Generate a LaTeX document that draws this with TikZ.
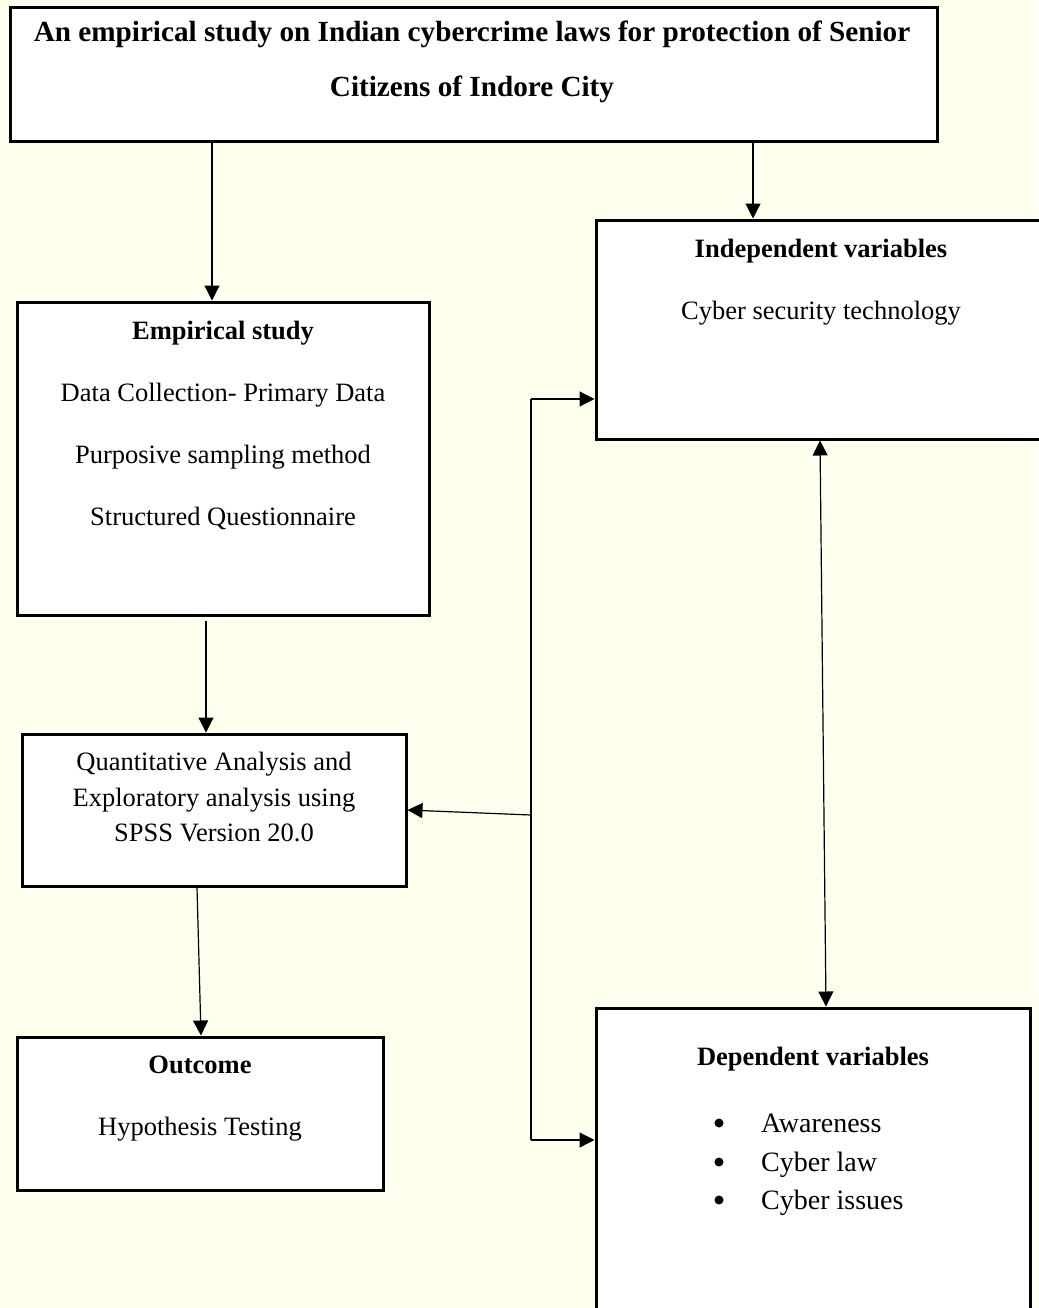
\documentclass[tikz,border=0pt]{standalone}
\usepackage{fontspec}
\setmainfont{Liberation Serif}
\usepackage{tikz}
\usetikzlibrary{arrows.meta, positioning, calc}

\definecolor{paper}{RGB}{255,255,238}

\tikzset{
  box/.style={draw, line width=3pt, fill=white, inner sep=0pt},
  txt/.style={anchor=base, font=\fontsize{26.5}{30}\selectfont},
  head/.style={anchor=base, font=\fontsize{26.5}{30}\selectfont\bfseries},
  item/.style={anchor=base west, inner sep=0pt, font=\fontsize{28}{32}\selectfont},
  dot/.style={circle, fill, inner sep=0pt, minimum size=9pt},
  arr/.style={-{Triangle[length=15pt,width=15pt]}, line width=1.2pt},
  darr/.style={{Triangle[length=15pt,width=15pt]}-{Triangle[length=15pt,width=15pt]}, line width=1.2pt},
}

\begin{document}
\begin{tikzpicture}[x=1pt, y=-1pt]

% Page (y grows downwards)
\useasboundingbox (0,0) rectangle (1038,1308);
\fill[paper] (0,0) rectangle (1038,1308);

% Boxes
\node[box, minimum width=927pt, minimum height=134pt] (title) at (473.5,75) {};
\node[box, minimum width=470pt, minimum height=219pt] (indep) at (831,329.5) {};
\node[box, minimum width=412pt, minimum height=313pt] (emp)   at (223,458.5) {};
\node[box, minimum width=384pt, minimum height=152pt] (quant) at (214,810) {};
\node[box, minimum width=366pt, minimum height=153pt] (outc)  at (200,1113.5) {};
\node[box, minimum width=434pt, minimum height=330pt] (dep)   at (813,1173) {};

% Title
\node[head, font=\fontsize{29.2}{32}\selectfont\bfseries] (titleA) at (472,42) {An empirical study on Indian cybercrime laws for protection of Senior};
\node[head, font=\fontsize{29.2}{32}\selectfont\bfseries] (titleB) at (472,97) {Citizens of Indore City};

% Independent variables
\node[head] (indepH) at (821,257) {Independent variables};
\node[txt]  (indepA) at (821,319) {Cyber security technology};

% Empirical study
\node[head] (empH) at (223,339) {Empirical study};
\node[txt]  (empA) at (223,401) {Data Collection- Primary Data};
\node[txt]  (empB) at (223,463) {Purposive sampling method};
\node[txt]  (empC) at (223,525) {Structured Questionnaire};

% Analysis
\node[txt] (quantA) at (214,770) {Quantitative Analysis and};
\node[txt] (quantB) at (214,806) {Exploratory analysis using};
\node[txt] (quantC) at (214,841) {SPSS Version 20.0};

% Outcome
\node[head] (outcH) at (200,1073) {Outcome};
\node[txt]  (outcA) at (200,1135) {Hypothesis Testing};

% Dependent variables
\node[head] (depH) at (813,1065) {Dependent variables};
\foreach \y/\t [count=\i] in {1132/Awareness, 1171/Cyber law, 1209/Cyber issues}{
  \node[dot] (dot\i) at (719,\y-9) {};
  \node[item] (dep\i) at (761,\y) {\t};
}

% Connectors
\draw[arr] ([xshift=-11pt]emp.north |- title.south) -- ([xshift=-11pt]emp.north);
\draw[arr] ([xshift=-78pt]indep.north |- title.south) -- ([xshift=-78pt]indep.north);
\draw[arr, shorten <=4pt] ([xshift=-8pt]quant.north |- emp.south) -- ([xshift=-8pt]quant.north);
\draw[arr] ([xshift=-17pt]quant.south) -- ([xshift=1pt]outc.north);
\draw[darr] ([xshift=-11pt]indep.south) -- ([xshift=13pt]dep.north);

% Feedback bus
\coordinate (busT) at (531,399);
\coordinate (busM) at (531,815);
\coordinate (busB) at (531,1140);
\draw[line width=1.2pt] (busT) -- (busB);
\draw[arr] (busT) -- (busT -| indep.west);
\draw[arr] (busB) -- (busB -| dep.west);
\draw[arr] (busM) -- (quant.east);

\end{tikzpicture}
\end{document}
